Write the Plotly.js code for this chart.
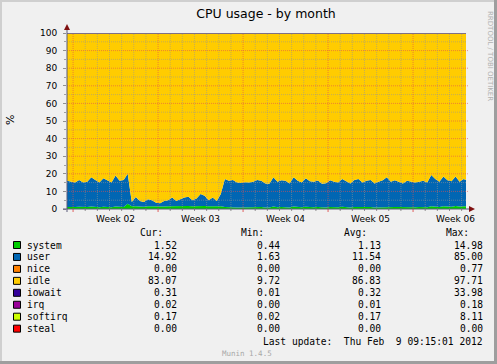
<!DOCTYPE html>
<html><head><meta charset="utf-8">
<script src="https://cdn.plot.ly/plotly-3.0.1.min.js"></script>
<style>html,body{margin:0;padding:0;background:#F0F0F0;}#chart{width:497px;height:364px;}</style>
</head><body><div id="chart"></div>
<script>
// ---- data (8-hour samples starting 2012-01-08 12:00) ----
const startTime = Date.UTC(2012, 0, 8, 12, 0, 0);
const stepHours = 8;
const rangeStart = '2012-01-08 12:00';
const rangeEnd = '2012-02-10 08:38';

const system = [
 1.1,1.0,1.2,1.3,1.0,1.1,1.4,1.2,1.0,1.3,
 1.1,1.0,1.4,1.2,1.1,3.0,1.5,1.6,1.4,1.3,
 1.5,1.4,1.3,1.2,1.4,1.5,1.6,1.4,1.5,1.6,
 1.7,1.5,1.6,1.8,1.7,1.5,1.6,1.4,1.5,1.2,
 1.0,1.1,0.9,0.9,1.0,0.9,1.0,1.2,1.1,0.9,
 0.9,1.4,1.0,1.1,1.1,0.9,1.4,1.1,1.0,1.3,
 1.0,1.0,1.1,0.9,0.9,1.2,1.0,1.0,1.3,1.1,
 0.9,1.2,1.3,1.0,1.1,1.2,0.9,1.0,1.2,1.4,
 1.1,1.2,1.1,1.0,1.2,1.1,1.0,1.1,1.2,1.0,
 1.6,1.4,1.2,1.6,1.4,1.3,1.7,1.4,1.6,1.5];
const user = [
 14.9,14.5,13.8,15.2,14.0,14.4,16.6,15.3,14.0,16.2,
 14.9,14.0,17.6,14.8,15.4,17.0,2.5,5.2,3.1,2.7,
 4.0,3.6,2.2,2.0,3.1,3.5,4.9,3.1,4.0,4.9,
 5.3,3.5,4.4,6.7,5.8,3.5,4.9,3.1,7.0,15.8,
 15.0,15.4,14.1,13.9,14.2,14.1,14.5,15.3,14.9,13.6,
 13.5,16.6,14.5,15.3,14.9,13.6,16.6,14.9,14.0,16.2,
 14.8,14.5,15.1,13.5,13.7,15.2,14.5,14.0,15.7,14.5,
 13.6,15.3,15.7,14.0,14.9,15.3,13.6,14.5,15.2,16.6,
 14.4,15.2,14.4,13.5,14.8,14.4,14.0,14.4,14.8,14.0,
 17.7,15.6,14.3,16.8,15.0,14.5,16.7,14.1,15.4,14.5];
const nice = [
 0,0,0,0,0,0,0,0,0,0, 0,0,0,0,0,0,0,0,0,0,
 0,0,0,0,0,0,0,0,0,0, 0,0,0,0,0,0,0,0,0,0,
 0,0,0,0,0,0,0,0,0,0, 0,0,0,0,0,0,0,0,0,0,
 0,0,0,0,0,0,0,0,0,0, 0,0,0,0,0,0,0,0,0,0,
 0,0,0,0,0,0,0,0,0,0, 0,0,0,0,0,0,0,0,0,0];
const idle = [
 83.42,83.92,84.32,82.92,84.42,83.82,81.42,82.82,84.42,81.92,
 83.32,84.42,80.42,83.42,82.82,79.32,95.42,92.52,94.92,95.42,
 93.82,94.42,95.82,96.22,94.92,94.42,92.82,94.92,93.92,92.82,
 92.42,94.42,93.32,90.92,91.92,94.32,92.92,94.92,90.82,82.42,
 83.32,82.92,84.42,84.52,84.22,84.42,83.92,82.82,83.42,84.92,
 85.02,81.42,83.92,82.92,83.42,84.82,81.42,83.42,84.42,81.82,
 83.62,83.92,83.12,85.02,84.82,83.02,83.92,84.32,82.42,83.82,
 84.92,82.82,82.42,84.42,83.32,82.92,84.82,83.92,83.02,81.32,
 83.82,83.02,83.92,84.82,83.42,83.82,84.42,83.92,83.32,84.42,
 80.02,82.42,83.92,80.92,83.02,83.62,81.02,83.92,82.42,83.42];
const iowait = [
 0.4,0.4,0.9,0.4,0.4,0.9,0.4,0.9,0.4,0.4,
 0.9,0.4,0.4,0.4,0.9,0.9,0.4,0.9,0.4,0.4,
 0.9,0.4,0.9,0.4,0.4,0.4,0.9,0.4,0.4,0.9,
 0.4,0.4,0.9,0.4,0.4,0.9,0.4,0.4,0.9,0.4,
 0.9,0.4,0.4,0.9,0.4,0.4,0.4,0.9,0.4,0.4,
 0.4,0.4,0.4,0.9,0.4,0.9,0.4,0.4,0.4,0.9,
 0.4,0.4,0.9,0.4,0.4,0.4,0.4,0.9,0.4,0.4,
 0.4,0.9,0.4,0.4,0.9,0.4,0.9,0.4,0.4,0.9,
 0.9,0.4,0.4,0.9,0.4,0.9,0.4,0.4,0.9,0.4,
 0.9,0.4,0.4,0.9,0.4,0.4,0.4,0.4,0.4,0.4];
const irq = [
 0.01,0.01,0.01,0.01,0.01,0.01,0.01,0.01,0.01,0.01,
 0.01,0.01,0.01,0.01,0.01,0.01,0.01,0.01,0.01,0.01,
 0.01,0.01,0.01,0.01,0.01,0.01,0.01,0.01,0.01,0.01,
 0.01,0.01,0.01,0.01,0.01,0.01,0.01,0.01,0.01,0.01,
 0.01,0.01,0.01,0.01,0.01,0.01,0.01,0.01,0.01,0.01,
 0.01,0.01,0.01,0.01,0.01,0.01,0.01,0.01,0.01,0.01,
 0.01,0.01,0.01,0.01,0.01,0.01,0.01,0.01,0.01,0.01,
 0.01,0.01,0.01,0.01,0.01,0.01,0.01,0.01,0.01,0.01,
 0.01,0.01,0.01,0.01,0.01,0.01,0.01,0.01,0.01,0.01,
 0.01,0.01,0.01,0.01,0.01,0.01,0.01,0.01,0.01,0.01];
const softirq = [
 0.17,0.17,0.17,0.17,0.17,0.17,0.17,0.17,0.17,0.17,
 0.17,0.17,0.17,0.17,0.17,0.17,0.17,0.17,0.17,0.17,
 0.17,0.17,0.17,0.17,0.17,0.17,0.17,0.17,0.17,0.17,
 0.17,0.17,0.17,0.17,0.17,0.17,0.17,0.17,0.17,0.17,
 0.17,0.17,0.17,0.17,0.17,0.17,0.17,0.17,0.17,0.17,
 0.17,0.17,0.17,0.17,0.17,0.17,0.17,0.17,0.17,0.17,
 0.17,0.17,0.17,0.17,0.17,0.17,0.17,0.17,0.17,0.17,
 0.17,0.17,0.17,0.17,0.17,0.17,0.17,0.17,0.17,0.17,
 0.17,0.17,0.17,0.17,0.17,0.17,0.17,0.17,0.17,0.17,
 0.17,0.17,0.17,0.17,0.17,0.17,0.17,0.17,0.17,0.17];
const steal = nice.slice();

const seriesNames = ['system','user','nice','idle','iowait','irq','softirq','steal'];
const seriesColors = ['#00CC00','#0066B3','#FF8000','#FFCC00','#330099','#990099','#CCFF00','#FF0000'];
const curVals = [1.52,14.92,0.00,83.07,0.31,0.02,0.17,0.00];
const minVals = [0.44,1.63,0.00,9.72,0.01,0.00,0.02,0.00];
const avgVals = [1.13,11.54,0.00,86.83,0.32,0.01,0.17,0.00];
const maxVals = [14.98,85.00,0.77,97.71,33.98,0.18,8.11,0.00];

const weekLabels = ['Week 02','Week 03','Week 04','Week 05','Week 06'];
const weekLabelPos = ['2012-01-12 12:00','2012-01-19 12:00','2012-01-26 12:00','2012-02-02 12:00','2012-02-09 12:00'];
const weekStarts = ['2012-01-09','2012-01-16','2012-01-23','2012-01-30','2012-02-06'];
const yTicks = [0,10,20,30,40,50,60,70,80,90,100];
const titleText = 'CPU usage - by month';
const lastUpdate = 'Last update:  Thu Feb  9 09:15:01 2012';

// ---- build ----
function fmtDate(ms){ return new Date(ms).toISOString().slice(0,16).replace('T',' '); }
const times = system.map((_, i) => fmtDate(startTime + i*stepHours*3600e3));
const allSeries = [system,user,nice,idle,iowait,irq,softirq,steal];

const traces = allSeries.map((vals, k) => ({
  type:'scatter', mode:'lines', x: times, y: vals, stackgroup:'one',
  line:{shape:'linear', width:0, color:seriesColors[k]}, fillcolor:seriesColors[k],
  hoverinfo:'skip', name:seriesNames[k]
}));

const L=67, R=466, T=33, B=209;
const PX = p => (p-L)/(R-L);
const PY = p => (B-p)/(B-T);

const shapes = [];
const annotations = [];

// grid (drawn above the areas like rrdtool)
const minorCol = 'rgba(150,150,150,0.55)';
const majorCol = 'rgba(225,80,80,0.6)';
for (let v = 5; v < 100; v += 5) {
  const major = v % 10 === 0;
  shapes.push({type:'line', layer:'above', xref:'paper', yref:'y', x0:0, x1: major ? PX(R+2) : 1, y0:v, y1:v,
    line:{color: major ? majorCol : minorCol, width:1, dash:'1px,1px'}});
}
const dayMs = 86400e3;
const firstMid = Date.UTC(2012,0,9);
const endMs = Date.UTC(2012,1,10,8,38);
for (let t = firstMid; t < endMs; t += dayMs) {
  const d = fmtDate(t).slice(0,10);
  const major = weekStarts.indexOf(d) >= 0;
  shapes.push({type:'line', layer:'above', xref:'x', yref:'paper', x0:d, x1:d, y0:0, y1:1,
    line:{color: major ? majorCol : minorCol, width:1, dash:'1px,1px'}});
  shapes.push({type:'line', layer:'above', xref:'x', yref:'paper', x0:d, x1:d, y0:PY(B), y1:PY(B+ (major?3:2)),
    line:{color: major ? '#E06060' : '#909090', width:1}});
}
// axes + arrows
const axisCol = '#5a5a7a';
shapes.push({type:'line', layer:'above', xref:'paper', yref:'paper', x0:PX(L), x1:PX(L), y0:PY(B+3), y1:PY(29), line:{color:axisCol, width:1}});
shapes.push({type:'line', layer:'above', xref:'paper', yref:'paper', x0:PX(L-4), x1:PX(470), y0:PY(B), y1:PY(B), line:{color:axisCol, width:1}});
shapes.push({type:'path', layer:'above', xref:'paper', yref:'paper',
  path:`M ${PX(L-3)} ${PY(30)} L ${PX(L+3)} ${PY(30)} L ${PX(L)} ${PY(24)} Z`, fillcolor:'#7F1010', line:{width:0}});
shapes.push({type:'path', layer:'above', xref:'paper', yref:'paper',
  path:`M ${PX(469)} ${PY(B-3)} L ${PX(469)} ${PY(B+3)} L ${PX(475)} ${PY(B)} Z`, fillcolor:'#7F1010', line:{width:0}});

// outer frame shading
shapes.push({type:'rect', layer:'above', xref:'paper', yref:'paper', x0:PX(0), x1:PX(2), y0:PY(0), y1:PY(364), fillcolor:'#CFCFCF', line:{width:0}});
shapes.push({type:'rect', layer:'above', xref:'paper', yref:'paper', x0:PX(0), x1:PX(497), y0:PY(0), y1:PY(2), fillcolor:'#CFCFCF', line:{width:0}});
shapes.push({type:'rect', layer:'above', xref:'paper', yref:'paper', x0:PX(494), x1:PX(497), y0:PY(0), y1:PY(364), fillcolor:'#9E9E9E', line:{width:0}});
shapes.push({type:'rect', layer:'above', xref:'paper', yref:'paper', x0:PX(0), x1:PX(497), y0:PY(361), y1:PY(364), fillcolor:'#9E9E9E', line:{width:0}});

// text helpers
const mono = 'DejaVu Sans Mono';
function txt(px, py, text, anchor, opts){
  annotations.push(Object.assign({xref:'paper', yref:'paper', x:PX(px), y:PY(py), text:text.replace(/ /g,'\u00A0'),
    showarrow:false, xanchor:anchor, yanchor:'middle', borderpad:0, borderwidth:0,
    font:{family:mono, size:9.6, color:'#000'}}, opts||{}));
}
// legend table
txt(163,232,'Cur:','right'); txt(264,232,'Min:','right'); txt(367,232,'Avg:','right'); txt(469,232,'Max:','right');
seriesNames.forEach((n,k) => {
  const py = 245 + k*11.95;
  shapes.push({type:'rect', layer:'above', xref:'paper', yref:'paper', x0:PX(13.5), x1:PX(20.5), y0:PY(py-3.5), y1:PY(py+3.5),
    fillcolor:seriesColors[k], line:{color:'#000', width:1}});
  txt(27, py, n, 'left');
  txt(177, py, curVals[k].toFixed(2), 'right');
  txt(280, py, minVals[k].toFixed(2), 'right');
  txt(381, py, avgVals[k].toFixed(2), 'right');
  txt(483, py, maxVals[k].toFixed(2), 'right');
});
txt(483, 341.5, lastUpdate, 'right');
txt(247, 353, 'Munin 1.4.5', 'center', {font:{family:mono, size:7.5, color:'#A8A8A8'}});
// y unit & watermark
annotations.push({xref:'paper', yref:'paper', x:PX(11), y:PY(120), text:'%', textangle:-90, showarrow:false,
  xanchor:'center', yanchor:'middle', font:{family:'DejaVu Sans', size:11, color:'#000'}});
annotations.push({xref:'paper', yref:'paper', x:PX(490), y:PY(56), text:'RRDTOOL / TOBI OETIKER', textangle:90, showarrow:false,
  xanchor:'center', yanchor:'middle', font:{family:'DejaVu Sans', size:7, color:'#B0B0B0'}});

const layout = {
  width:497, height:364,
  margin:{l:L, r:497-R, t:T, b:364-B, pad:0},
  paper_bgcolor:'#F0F0F0', plot_bgcolor:'#FFFFFF',
  showlegend:false,
  title:{text:titleText, font:{family:'DejaVu Sans', size:12.5, color:'#000'},
    x:PX(266), xref:'paper', xanchor:'center', y:1-14/364, yref:'container', yanchor:'middle'},
  xaxis:{type:'date', range:[rangeStart, rangeEnd], tickmode:'array', tickvals:weekLabelPos, ticktext:weekLabels,
    ticks:'', showgrid:false, zeroline:false, showline:false, ticklabelstandoff:3,
    tickfont:{family:'DejaVu Sans', size:9, color:'#000'}, fixedrange:true},
  yaxis:{range:[0,100], tickmode:'array', tickvals:yTicks, ticks:'outside', ticklen:3, tickcolor:'#909090',
    minor:{dtick:5, ticks:'outside', ticklen:2, tickcolor:'#A0A0A0'},
    showgrid:false, zeroline:false, showline:false, ticklabelstandoff:4,
    tickfont:{family:'DejaVu Sans', size:9, color:'#000'}, fixedrange:true},
  shapes:shapes, annotations:annotations
};
Plotly.newPlot('chart', traces, layout, {staticPlot:true, displayModeBar:false});
</script></body></html>
